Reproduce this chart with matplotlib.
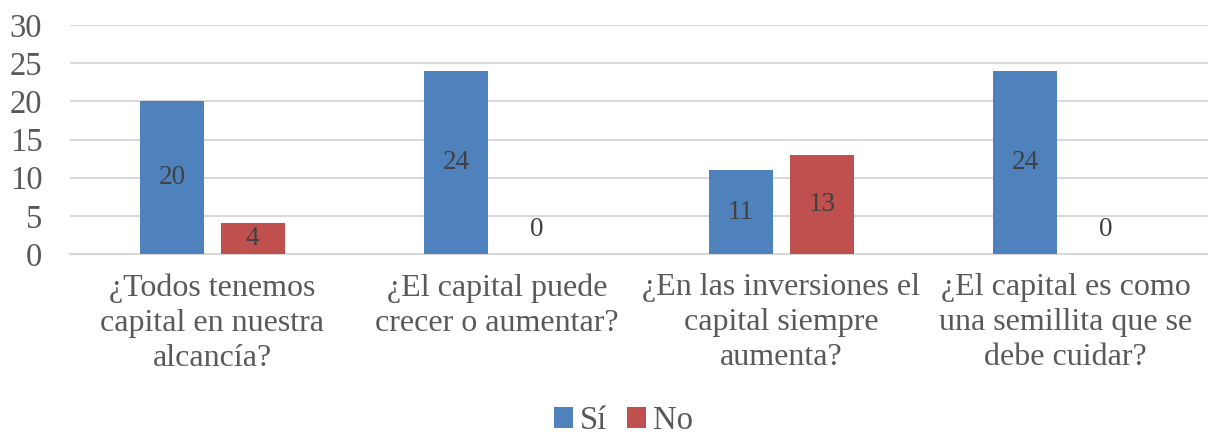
import numpy as np
import matplotlib.pyplot as plt

plt.rcParams['font.family'] = ['Liberation Serif', 'DejaVu Serif']

categorias = ['¿Todos tenemos\ncapital en nuestra\nalcancía?',
              '¿El capital puede\ncrecer o aumentar?',
              '¿En las inversiones el\ncapital siempre\naumenta?',
              '¿El capital es como\nuna semillita que se\ndebe cuidar?']
si = [20, 24, 11, 24]
no = [4, 0, 13, 0]

azul = '#4F81BD'
rojo = '#C0504D'

fig = plt.figure(figsize=(12.08, 4.38), dpi=100)
ax = fig.add_axes([0.058, 0.42, 0.942, 0.523])

x = np.arange(len(categorias))
w = 0.225
off = 0.142
b1 = ax.bar(x - off, si, w, color=azul, label='Sí', zorder=3)
b2 = ax.bar(x + off, no, w, color=rojo, label='No', zorder=3)

# etiquetas de datos centradas en la barra
for barras in (b1, b2):
    for b in barras:
        v = b.get_height()
        cx = b.get_x() + b.get_width() / 2
        if v > 0:
            ax.text(cx, v / 2, f'{v:g}', ha='center', va='center',
                    fontsize=19.5, color='#404040', zorder=4)
        else:
            ax.annotate('0', (cx, 0), xytext=(0, 25), textcoords='offset pixels',
                        ha='center', va='center', fontsize=19.5, color='#404040')

ax.set_xlim(-0.5, 3.5)
ax.set_ylim(0, 30)
ax.set_yticks(range(0, 31, 5))
ax.set_xticks(x)
ax.set_xticklabels(categorias, linespacing=1.27)
ax.tick_params(axis='y', length=0, labelsize=23.5, labelcolor='#595959', pad=20)
ax.tick_params(axis='x', length=0, labelsize=23, labelcolor='#595959', pad=14)
ax.grid(axis='y', color='#D9D9D9', linewidth=1.5, zorder=0)
for s in ['top', 'right', 'left']:
    ax.spines[s].set_visible(False)
ax.spines['bottom'].set_color('#D9D9D9')
ax.spines['bottom'].set_linewidth(1.5)

fig.legend(loc='lower center', bbox_to_anchor=(0.516, -0.062), ncol=2, frameon=False,
           fontsize=23.5, labelcolor='#595959', handlelength=0.6, handleheight=0.6,
           handletextpad=0.2, columnspacing=0.6)

fig.savefig('out.png', dpi=100)
